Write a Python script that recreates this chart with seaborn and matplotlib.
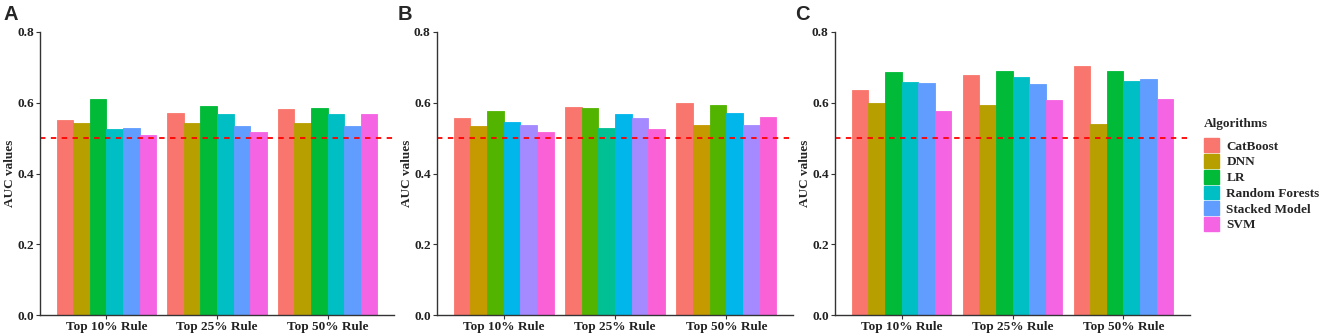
import numpy as np
import pandas as pd
import matplotlib
matplotlib.use("Agg")
import matplotlib.pyplot as plt
from matplotlib.patches import Patch
import seaborn as sns

# Rules on the x axis
rules = ["Top 10% Rule", "Top 25% Rule", "Top 50% Rule"]

# Algorithms shown in the legend (panels A and C)
algorithms = ["CatBoost", "DNN", "LR", "Random Forests", "Stacked Model", "SVM"]
algo_colors = ["#F8766D", "#B79F00", "#00BA38", "#00BFC4", "#619CFF", "#F564E3"]

# AUC values, one list per rule, bars in legend order
auc_a = [[0.551, 0.544, 0.611, 0.526, 0.529, 0.508],
         [0.572, 0.544, 0.592, 0.567, 0.534, 0.518],
         [0.582, 0.544, 0.586, 0.567, 0.534, 0.569]]

auc_c = [[0.636, 0.599, 0.688, 0.658, 0.657, 0.576],
         [0.679, 0.593, 0.690, 0.673, 0.652, 0.608],
         [0.703, 0.540, 0.690, 0.661, 0.668, 0.610]]

# Panel B uses a 7-level palette, one level is missing in each group
b_colors7 = ["#F8766D", "#C49A00", "#53B400", "#00C094", "#00B6EB", "#A58AFF", "#FB61D7"]
b_levels = [[0, 1, 2, 4, 5, 6],
            [0, 2, 3, 4, 5, 6],
            [0, 1, 2, 4, 5, 6]]
auc_b = [[0.556, 0.534, 0.577, 0.545, 0.536, 0.517],
         [0.588, 0.586, 0.529, 0.567, 0.558, 0.527],
         [0.599, 0.536, 0.593, 0.570, 0.537, 0.560]]

sns.set_theme(style="white")
plt.rcParams["font.family"] = ["Liberation Serif", "DejaVu Serif"]
plt.rcParams["font.weight"] = "bold"
plt.rcParams["axes.labelweight"] = "bold"


def panel(ax, values, colors):
    rows = []
    for i, rule in enumerate(rules):
        for j, v in enumerate(values[i]):
            rows.append({"rule": rule, "slot": j, "auc": v})
    df = pd.DataFrame(rows)
    sns.barplot(data=df, x="rule", y="auc", hue="slot", dodge=True,
                width=0.9, gap=0, palette=["#999999"] * 6, legend=False,
                errorbar=None, ax=ax, saturation=1)
    # seaborn orders patches hue-level first, then x
    for k, p in enumerate(ax.patches):
        j, i = divmod(k, len(rules))
        c = colors[i][j]
        p.set_facecolor(c)
        p.set_edgecolor(c)
        p.set_linewidth(0.6)
    ax.axhline(0.5, color="red", linestyle=(0, (3, 3)), linewidth=1.3)
    ax.set_xlim(-0.6, 2.6)
    ax.set_ylim(0, 0.8)
    ax.set_yticks([0, 0.2, 0.4, 0.6, 0.8])
    ax.set_yticklabels(["0.0", "0.2", "0.4", "0.6", "0.8"])
    ax.set_xlabel("")
    ax.set_ylabel("AUC values", fontsize=9.5, fontweight="bold", labelpad=0.5)
    for s in ["top", "right"]:
        ax.spines[s].set_visible(False)
    for s in ["left", "bottom"]:
        ax.spines[s].set_color("#333333")
        ax.spines[s].set_linewidth(1.0)
    ax.tick_params(axis="both", which="both", length=3, width=0.8,
                   color="#333333", labelsize=9.5, pad=1.5,
                   left=True, bottom=True)
    for t in ax.get_xticklabels() + ax.get_yticklabels():
        t.set_fontweight("bold")
        t.set_color("#222222")


W, H = 1325, 336
fig = plt.figure(figsize=(W / 100, H / 100), dpi=100)
bottom, top = 315, 32
axes = []
for left, right, letter, lx in [(40, 394, "A", 3), (437, 793, "B", 398), (835, 1190, "C", 795)]:
    ax = fig.add_axes([left / W, 1 - bottom / H, (right - left) / W, (bottom - top) / H])
    axes.append(ax)
    fig.text(lx / W, 1 - 5 / H, letter, fontsize=14.5, fontweight="bold",
             family="Liberation Sans", va="top", ha="left")

cols_ac = [algo_colors for _ in rules]
cols_b = [[b_colors7[l] for l in lv] for lv in b_levels]

panel(axes[0], auc_a, cols_ac)
panel(axes[1], auc_b, cols_b)
panel(axes[2], auc_c, cols_ac)

handles = [Patch(facecolor=c, edgecolor=c) for c in algo_colors]
leg = fig.legend(handles, algorithms, title="Algorithms",
                 loc="upper left", bbox_to_anchor=(1204 / W, 1 - 118 / H),
                 frameon=False, fontsize=9.5, title_fontsize=9.5,
                 handlelength=1.15, handleheight=1.25, labelspacing=0.1,
                 handletextpad=0.55, borderaxespad=0, borderpad=0)
leg.get_title().set_fontweight("bold")
leg._legend_box.align = "left"
leg._legend_box.sep = 6
for t in leg.get_texts():
    t.set_fontweight("bold")

fig.savefig("out.png", dpi=100)
